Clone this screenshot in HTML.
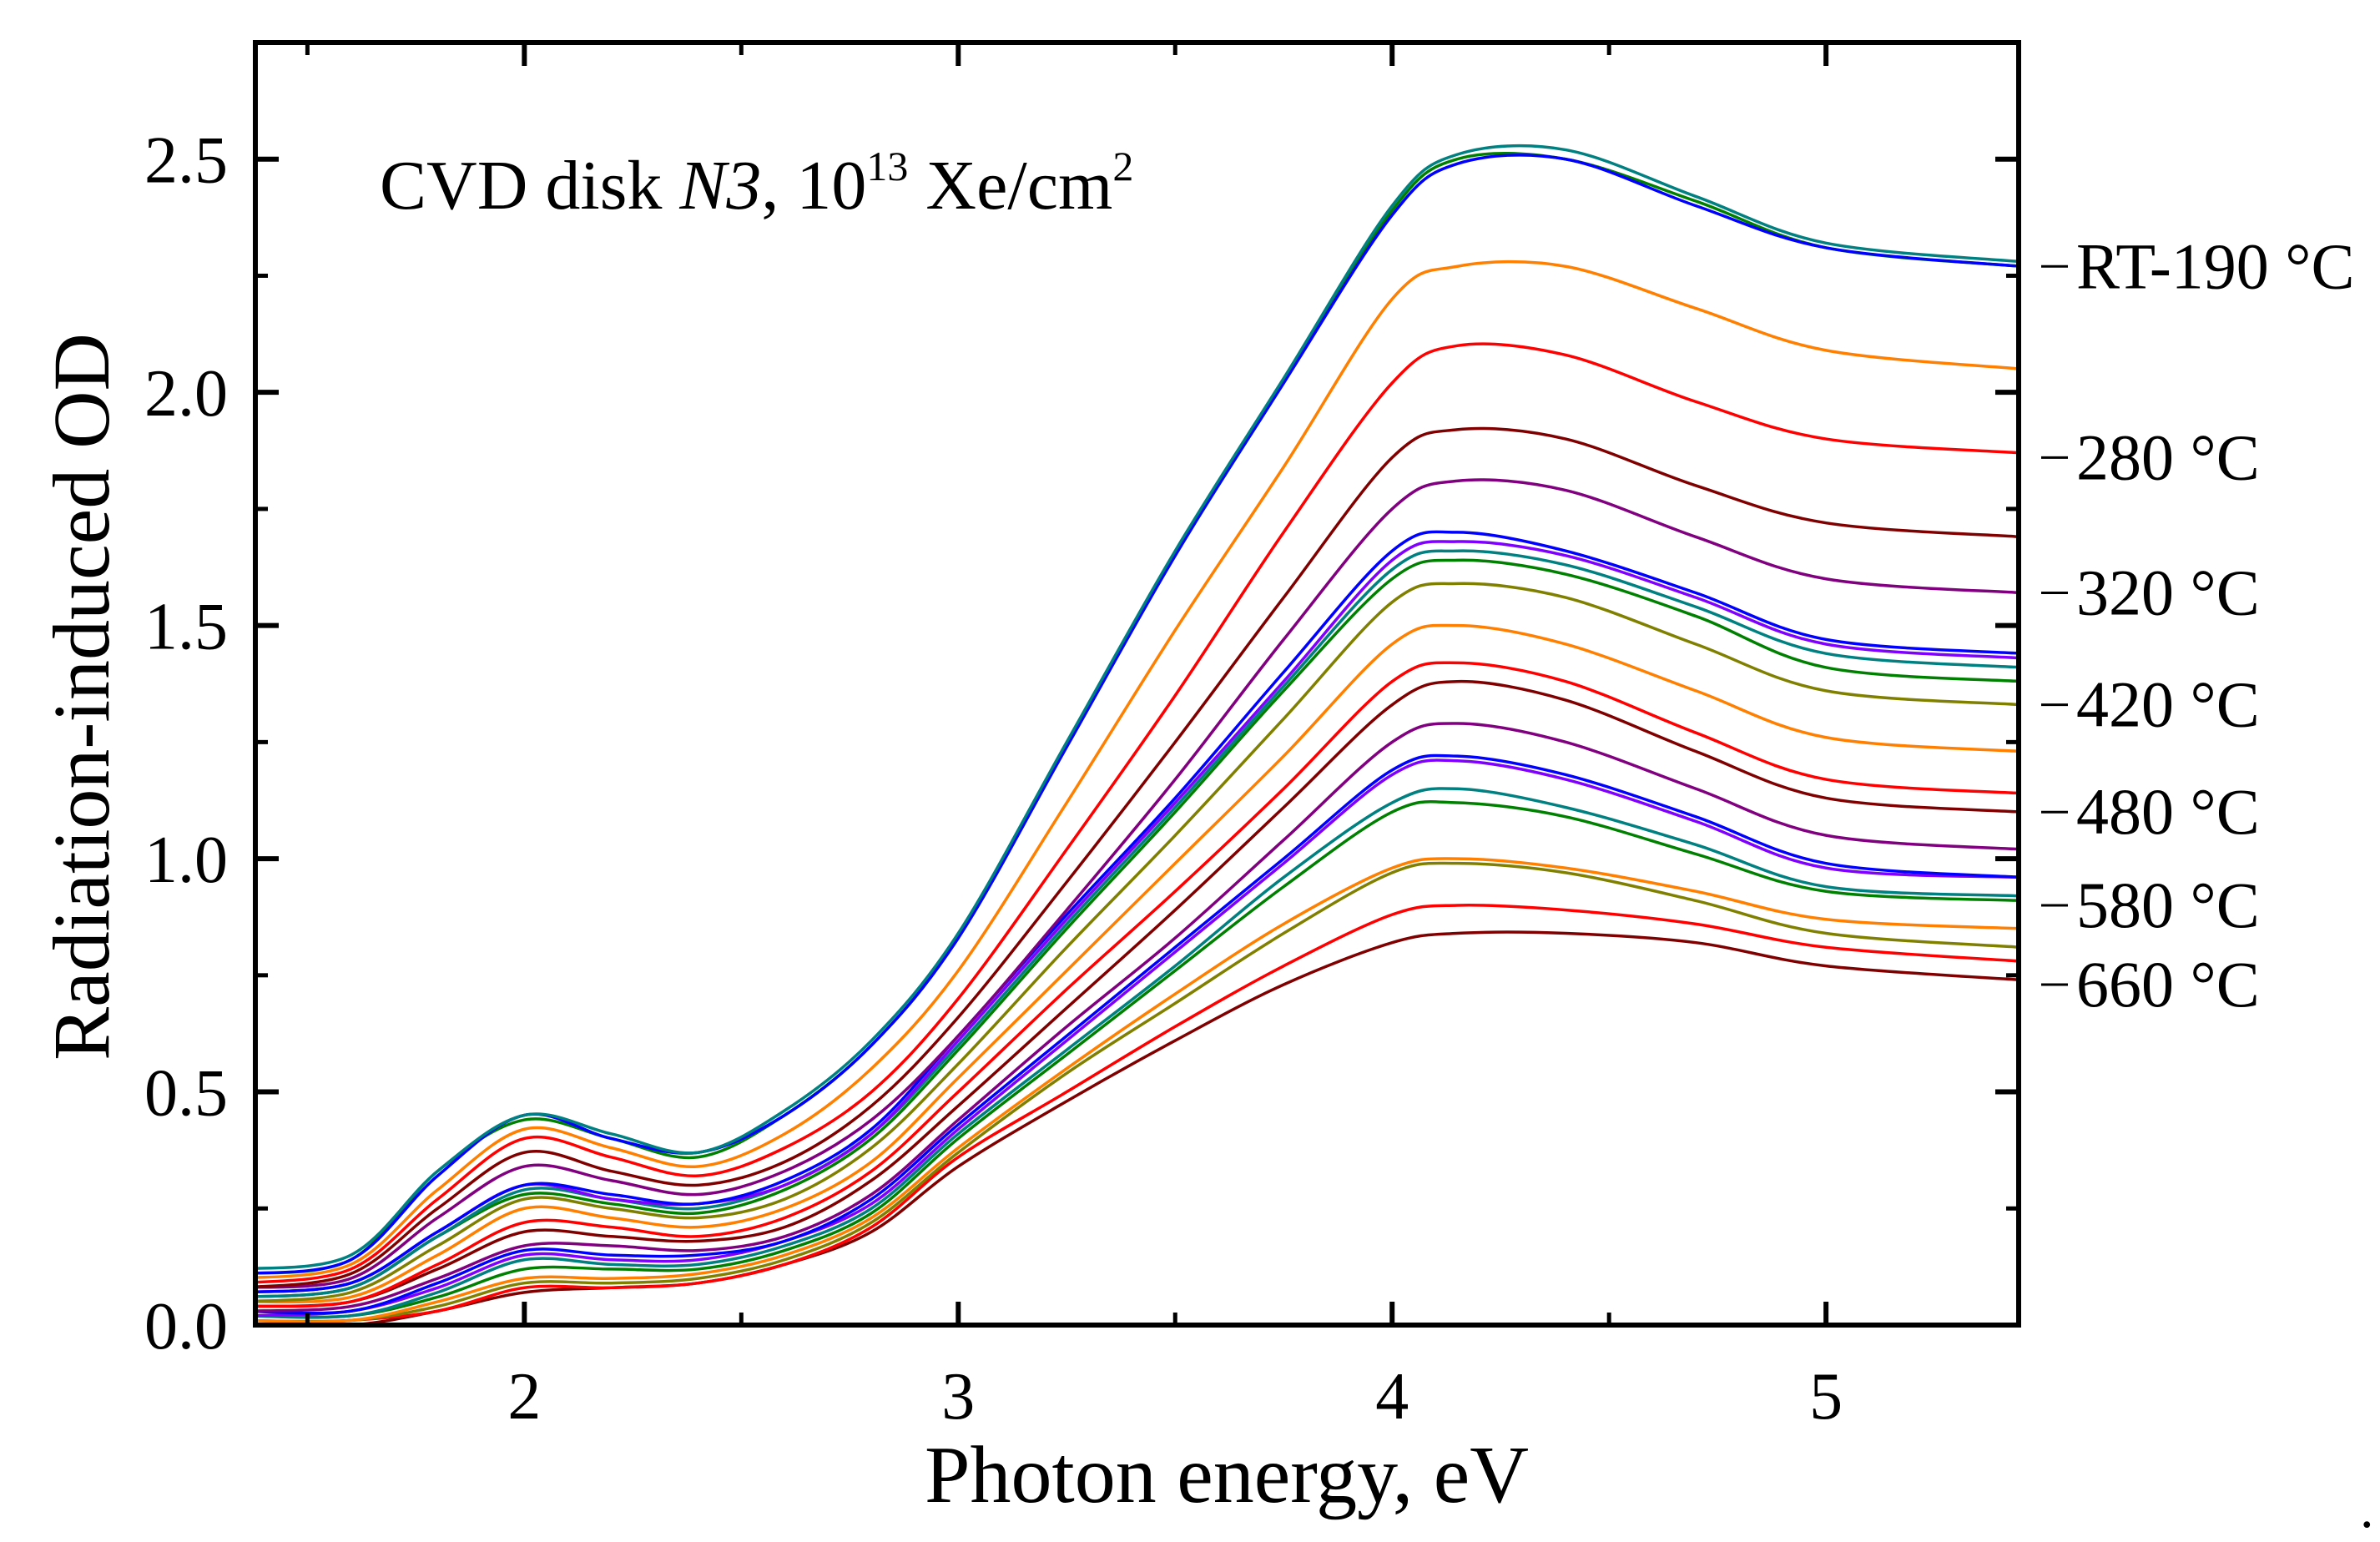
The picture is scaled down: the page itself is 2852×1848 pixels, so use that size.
<!DOCTYPE html>
<html><head><meta charset="utf-8"><style>
html,body{margin:0;padding:0;background:#fff;}
svg{display:block;font-family:"Liberation Serif",serif;}
</style></head><body>
<svg id="chart" width="2852" height="1848" viewBox="0 0 2852 1848" xmlns="http://www.w3.org/2000/svg">
<g id="series"></g>
<g id="axes"></g>
<text x="455" y="250" font-size="84">CVD disk <tspan font-style="italic">N3</tspan>, 10<tspan font-size="50" dy="-34">13</tspan><tspan dy="34"> Xe/cm</tspan><tspan font-size="50" dy="-34">2</tspan></text>
<text x="1470" y="1800" font-size="98" text-anchor="middle">Photon energy, eV</text>
<text transform="translate(130,835) rotate(-90)" font-size="96" text-anchor="middle">Radiation-induced OD</text>
<text x="2828" y="1830" font-size="66">.</text>
</svg>
<script>
const xs = [1.35,1.6,1.8,2.0,2.2,2.4,2.6,2.8,3.0,3.25,3.5,3.75,4.0,4.15,4.4,4.7,5.0,5.45];
const s1a = [0.11,0.14,0.32,0.45,0.40,0.37,0.45,0.60,0.83,1.24,1.65,2.02,2.38,2.49,2.50,2.40,2.31,2.27];
const s1b = [0.12,0.15,0.33,0.45,0.41,0.37,0.46,0.61,0.84,1.25,1.66,2.03,2.40,2.51,2.52,2.42,2.32,2.28];
const s1c = [0.11,0.14,0.33,0.44,0.40,0.36,0.45,0.60,0.83,1.24,1.65,2.02,2.39,2.50,2.50,2.41,2.31,2.27];
const s2 = [0.10,0.13,0.29,0.42,0.38,0.34,0.41,0.55,0.76,1.12,1.49,1.84,2.20,2.27,2.27,2.18,2.09,2.05];
const s3 = [0.09,0.12,0.27,0.40,0.36,0.32,0.38,0.50,0.70,1.02,1.35,1.70,2.02,2.10,2.08,1.98,1.90,1.87];
const s4 = [0.08,0.11,0.25,0.37,0.33,0.30,0.35,0.47,0.66,0.95,1.25,1.56,1.86,1.92,1.90,1.80,1.72,1.69];
const s5 = [0.08,0.10,0.23,0.34,0.31,0.28,0.33,0.44,0.62,0.89,1.17,1.47,1.75,1.81,1.79,1.69,1.60,1.57];
const s6 = [0.07,0.09,0.20,0.30,0.28,0.26,0.31,0.42,0.62,0.88,1.13,1.40,1.66,1.70,1.66,1.57,1.47,1.44];
const s7 = [0.07,0.09,0.20,0.30,0.27,0.26,0.30,0.41,0.61,0.87,1.12,1.38,1.64,1.68,1.65,1.56,1.46,1.43];
const s8 = [0.06,0.08,0.19,0.29,0.27,0.25,0.30,0.41,0.60,0.86,1.11,1.37,1.62,1.66,1.63,1.54,1.44,1.41];
const s9 = [0.06,0.08,0.19,0.28,0.26,0.24,0.29,0.40,0.59,0.85,1.10,1.36,1.60,1.64,1.61,1.52,1.41,1.38];
const s10 = [0.05,0.07,0.17,0.27,0.25,0.23,0.27,0.38,0.56,0.81,1.05,1.30,1.55,1.59,1.56,1.46,1.36,1.33];
const s11 = [0.05,0.06,0.15,0.25,0.23,0.21,0.25,0.35,0.53,0.76,0.99,1.22,1.46,1.50,1.46,1.36,1.26,1.23];
const s12 = [0.04,0.05,0.13,0.22,0.21,0.19,0.23,0.33,0.50,0.72,0.93,1.15,1.38,1.42,1.38,1.27,1.17,1.14];
const s13 = [0.04,0.05,0.12,0.20,0.19,0.18,0.21,0.31,0.47,0.68,0.89,1.11,1.33,1.38,1.34,1.23,1.13,1.10];
const s14 = [0.03,0.04,0.10,0.17,0.17,0.16,0.19,0.28,0.44,0.64,0.83,1.04,1.25,1.29,1.25,1.15,1.05,1.02];
const s15 = [0.03,0.03,0.09,0.16,0.15,0.15,0.18,0.27,0.43,0.62,0.81,1.00,1.19,1.22,1.18,1.09,0.99,0.96];
const s16 = [0.02,0.03,0.08,0.15,0.14,0.14,0.18,0.26,0.42,0.61,0.80,0.99,1.18,1.21,1.17,1.08,0.98,0.96];
const s17 = [0.02,0.02,0.07,0.14,0.13,0.13,0.17,0.25,0.41,0.59,0.77,0.96,1.12,1.15,1.11,1.03,0.94,0.92];
const s18 = [0.02,0.02,0.06,0.12,0.12,0.12,0.16,0.24,0.40,0.58,0.76,0.94,1.10,1.12,1.09,1.01,0.93,0.91];
const s19 = [0.01,0.01,0.05,0.10,0.10,0.11,0.15,0.23,0.38,0.55,0.71,0.86,0.98,1.00,0.98,0.93,0.87,0.85];
const s20 = [0.01,0.01,0.04,0.09,0.09,0.10,0.14,0.22,0.37,0.54,0.69,0.84,0.97,0.99,0.97,0.91,0.84,0.81];
const s21 = [0.00,0.01,0.03,0.08,0.08,0.09,0.13,0.21,0.36,0.50,0.64,0.77,0.88,0.90,0.89,0.86,0.81,0.78];
const s22 = [0.00,0.00,0.03,0.07,0.08,0.09,0.13,0.20,0.34,0.48,0.61,0.73,0.82,0.84,0.84,0.82,0.77,0.74];
const seriesList = [s22,s21,s20,s19,s18,s17,s16,s15,s14,s13,s12,s11,s10,s9,s8,s7,s6,s5,s4,s3,s2,s1c,s1a,s1b];
const seriesColors = ["#800000","#ff0000","#808000","#ff8000","#008000","#008080","#8000ff","#0000ff","#800080","#800000","#ff0000","#ff8000","#808000","#008000","#008080","#8000ff","#0000ff","#800080","#800000","#ff0000","#ff8000","#008000","#0000ff","#008080"];
const xTicks = [2,3,4,5];
const xMinor = [1.5,2.5,3.5,4.5];
const yTicks = [0,0.5,1.0,1.5,2.0,2.5];
const yTickLabels = ["0.0","0.5","1.0","1.5","2.0","2.5"];
const yMinor = [0.25,0.75,1.25,1.75,2.25];
const tempLabels = ["RT-190 °C","280 °C","320 °C","420 °C","480 °C","580 °C","660 °C"];
const tempLabelY = [2.27,1.86,1.57,1.33,1.10,0.90,0.73];

const L=306,R=2419,T=51,B=1588, X0=1.38,X1=5.444,Y0=0,Y1=2.75;
const sx=v=>L+(v-X0)/(X1-X0)*(R-L);
const sy=v=>B-(v-Y0)/(Y1-Y0)*(B-T);
const NS="http://www.w3.org/2000/svg";
function mk(tag,attrs,parent){const e=document.createElementNS(NS,tag);for(const k in attrs)e.setAttribute(k,attrs[k]);parent.appendChild(e);return e;}
const gS=document.getElementById('series'), gA=document.getElementById('axes');
function pathFor(vals){
  const p=xs.map((x,i)=>[sx(x),sy(vals[i])]);
  let d=`M${p[0][0]},${p[0][1]}`;
  for(let i=0;i<p.length-1;i++){
    const p0=p[Math.max(0,i-1)],p1=p[i],p2=p[i+1],p3=p[Math.min(p.length-1,i+2)];
    const c1=[p1[0]+(p2[0]-p0[0])/6,p1[1]+(p2[1]-p0[1])/6];
    const c2=[p2[0]-(p3[0]-p1[0])/6,p2[1]-(p3[1]-p1[1])/6];
    d+=`C${c1[0]},${c1[1]} ${c2[0]},${c2[1]} ${p2[0]},${p2[1]}`;
  }
  return d;
}
mk('clipPath',{id:'clip'},gS);
mk('rect',{x:L,y:T,width:R-L,height:B-T},document.getElementById('clip'));
seriesList.forEach((s,i)=>{
  const el=mk('path',{d:pathFor(s),fill:'none',stroke:seriesColors[i],'stroke-width':3.5,'clip-path':'url(#clip)'},gS);
  
  
});
const frame=mk('rect',{x:L,y:T,width:R-L,height:B-T,fill:'none',stroke:'#000','stroke-width':6},gA);


xTicks.forEach((v,i)=>{
  const x=sx(v);
  mk('line',{x1:x,y1:B,x2:x,y2:B-28,stroke:'#000','stroke-width':6},gA);
  mk('line',{x1:x,y1:T,x2:x,y2:T+28,stroke:'#000','stroke-width':6},gA);
  const t=mk('text',{x:x,y:1700,'font-size':80,'text-anchor':'middle'},gA);
  t.textContent=String(v);
  
  
});
xMinor.forEach(v=>{const x=sx(v);
  mk('line',{x1:x,y1:B,x2:x,y2:B-15,stroke:'#000','stroke-width':5},gA);
  mk('line',{x1:x,y1:T,x2:x,y2:T+15,stroke:'#000','stroke-width':5},gA);});
yTicks.forEach((v,i)=>{
  const y=sy(v);
  mk('line',{x1:L,y1:y,x2:L+28,y2:y,stroke:'#000','stroke-width':6},gA);
  mk('line',{x1:R,y1:y,x2:R-28,y2:y,stroke:'#000','stroke-width':6},gA);
  const t=mk('text',{x:273,y:y+28,'font-size':80,'text-anchor':'end'},gA);
  t.textContent=yTickLabels[i];
  
  
});
yMinor.forEach(v=>{const y=sy(v);
  mk('line',{x1:L,y1:y,x2:L+15,y2:y,stroke:'#000','stroke-width':5},gA);
  mk('line',{x1:R,y1:y,x2:R-15,y2:y,stroke:'#000','stroke-width':5},gA);});
tempLabels.forEach((lab,i)=>{
  const y=sy(tempLabelY[i]);
  mk('line',{x1:2446,y1:y,x2:2478,y2:y,stroke:'#000','stroke-width':3},gA);
  const t=mk('text',{x:2488,y:y+26,'font-size':78},gA);
  t.textContent=lab;
  
  
});
</script>
</body></html>
